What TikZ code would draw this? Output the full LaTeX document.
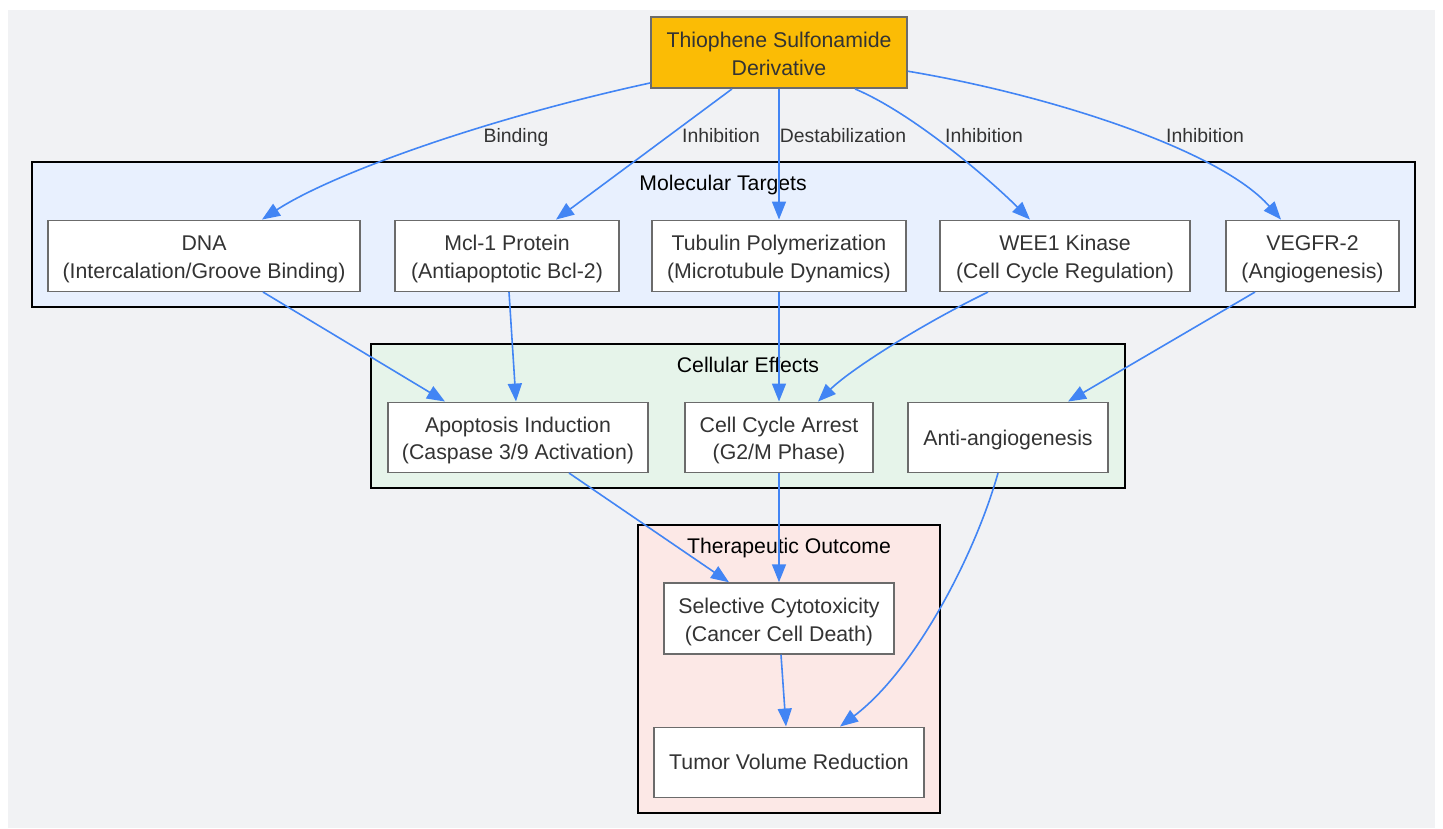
\documentclass[tikz,border=0pt]{standalone}
\usepackage{fontspec}
\setmainfont{Liberation Sans}
\usetikzlibrary{arrows.meta,calc}
\definecolor{bgc}{HTML}{F1F2F4}
\definecolor{srcc}{HTML}{FBBC05}
\definecolor{mtc}{HTML}{E8F0FE}
\definecolor{cec}{HTML}{E6F4EA}
\definecolor{toc}{HTML}{FCE8E6}
\definecolor{edgec}{HTML}{4285F4}
\definecolor{txtc}{HTML}{333333}
\definecolor{bordc}{HTML}{6B6B6B}
\newcommand{\twol}[2]{\rule{0pt}{22pt}#1\\#2\rule[-4.5pt]{0pt}{4.5pt}}
\tikzset{
  box/.style={draw=bordc, line width=1.5pt, fill=white, text=txtc, align=center,
    inner sep=0pt, font=\fontsize{21.3}{27.8}\selectfont},
  cluster/.style={draw=black, line width=1.8pt},
  ctitle/.style={text=black, font=\fontsize{21.2}{24}\selectfont, inner sep=0pt, anchor=base},
  edge/.style={draw=edgec, line width=1.6pt, -{Triangle[length=18pt,width=14pt]}},
  elabel/.style={text=txtc, font=\fontsize{19.4}{22}\selectfont, inner sep=0pt, anchor=base}
}
\begin{document}
\begin{tikzpicture}[x=1pt,y=-1pt]
\useasboundingbox (0,0) rectangle (1443,829);
\fill[bgc] (8,10) rectangle (1435,828);
% clusters
\draw[cluster, fill=mtc] (32,162) rectangle (1415,307);
\node[ctitle] (mtt) at (723,190.5) {Molecular Targets};
\draw[cluster, fill=cec] (371,344) rectangle (1125,488);
\node[ctitle] (cet) at (748,372.5) {Cellular Effects};
\draw[cluster, fill=toc] (638,525) rectangle (940,813);
\node[ctitle] (tot) at (789,553.3) {Therapeutic Outcome};
% nodes
\node[box, fill=srcc, minimum width=256pt, minimum height=71pt] (src) at (779,52.7) {\twol{Thiophene Sulfonamide}{Derivative}};
\node[box, minimum width=312pt, minimum height=71pt] (dna) at (204,255.8) {\twol{DNA}{(Intercalation/Groove Binding)}};
\node[box, minimum width=224pt, minimum height=71pt] (mcl) at (507,255.8) {\twol{Mcl-1 Protein}{(Antiapoptotic Bcl-2)}};
\node[box, minimum width=254pt, minimum height=71pt] (tub) at (779,255.8) {\twol{Tubulin Polymerization}{(Microtubule Dynamics)}};
\node[box, minimum width=250pt, minimum height=71pt] (wee) at (1065,255.8) {\twol{WEE1 Kinase}{(Cell Cycle Regulation)}};
\node[box, minimum width=173pt, minimum height=71pt] (veg) at (1312.5,255.8) {\twol{VEGFR-2}{(Angiogenesis)}};
\node[box, minimum width=260pt, minimum height=70pt] (apo) at (518,437.3) {\twol{Apoptosis Induction}{(Caspase 3/9 Activation)}};
\node[box, minimum width=188pt, minimum height=70pt] (cca) at (779,437.3) {\twol{Cell Cycle Arrest}{(G2/M Phase)}};
\node[box, minimum width=200pt, minimum height=70pt] (anti) at (1008,437.3) {\rule{0pt}{20pt}Anti-angiogenesis};
\node[box, minimum width=230pt, minimum height=71pt] (sel) at (779,618.5) {\twol{Selective Cytotoxicity}{(Cancer Cell Death)}};
\node[box, minimum width=270pt, minimum height=70pt] (tum) at (789,762.3) {Tumor Volume Reduction};
% edges
\draw[edge] ($(src.south west)+(0,-6)$) .. controls (480,120) and (330,175) .. ($(dna.north)+(58,0)$);
\draw[edge] ($(src.south)+(-47,0)$) -- ($(mcl.north)+(49,0)$);
\draw[edge] (src.south) -- (tub.north);
\draw[edge] ($(src.south)+(76,0)$) .. controls (910,112) and (985,175) .. ($(wee.north)+(-35,0)$);
\draw[edge] ($(src.east)+(0,18.5)$) .. controls (1050,95) and (1220,150) .. ($(veg.north)+(-31.5,0)$);
\draw[edge] ($(dna.south)+(59,0)$) -- ($(apo.north)+(-73,0)$);
\draw[edge] ($(mcl.south)+(2,0)$) -- ($(apo.north)+(-2,0)$);
\draw[edge] (tub.south) -- (cca.north);
\draw[edge] ($(wee.south)+(-77,0)$) .. controls (920,325) and (850,370) .. ($(cca.north)+(39,0)$);
\draw[edge] ($(veg.south)+(-57.5,0)$) -- ($(anti.north)+(60,0)$);
\draw[edge] ($(apo.south)+(51,0)$) -- ($(sel.north)+(-50,0)$);
\draw[edge] (cca.south) -- (sel.north);
\draw[edge] ($(anti.south)+(-10,0)$) .. controls (975,555) and (915,670) .. ($(tum.north)+(51,0)$);
\draw[edge] ($(sel.south)+(2,0)$) -- ($(tum.north)+(-3,0)$);
% edge labels
\node[elabel] (l1) at (516,142.3) {Binding};
\node[elabel] (l2) at (721,142.3) {Inhibition};
\node[elabel] (l3) at (843,142.3) {Destabilization};
\node[elabel] (l4) at (984,142.3) {Inhibition};
\node[elabel] (l5) at (1205,142.3) {Inhibition};
\end{tikzpicture}
\end{document}
